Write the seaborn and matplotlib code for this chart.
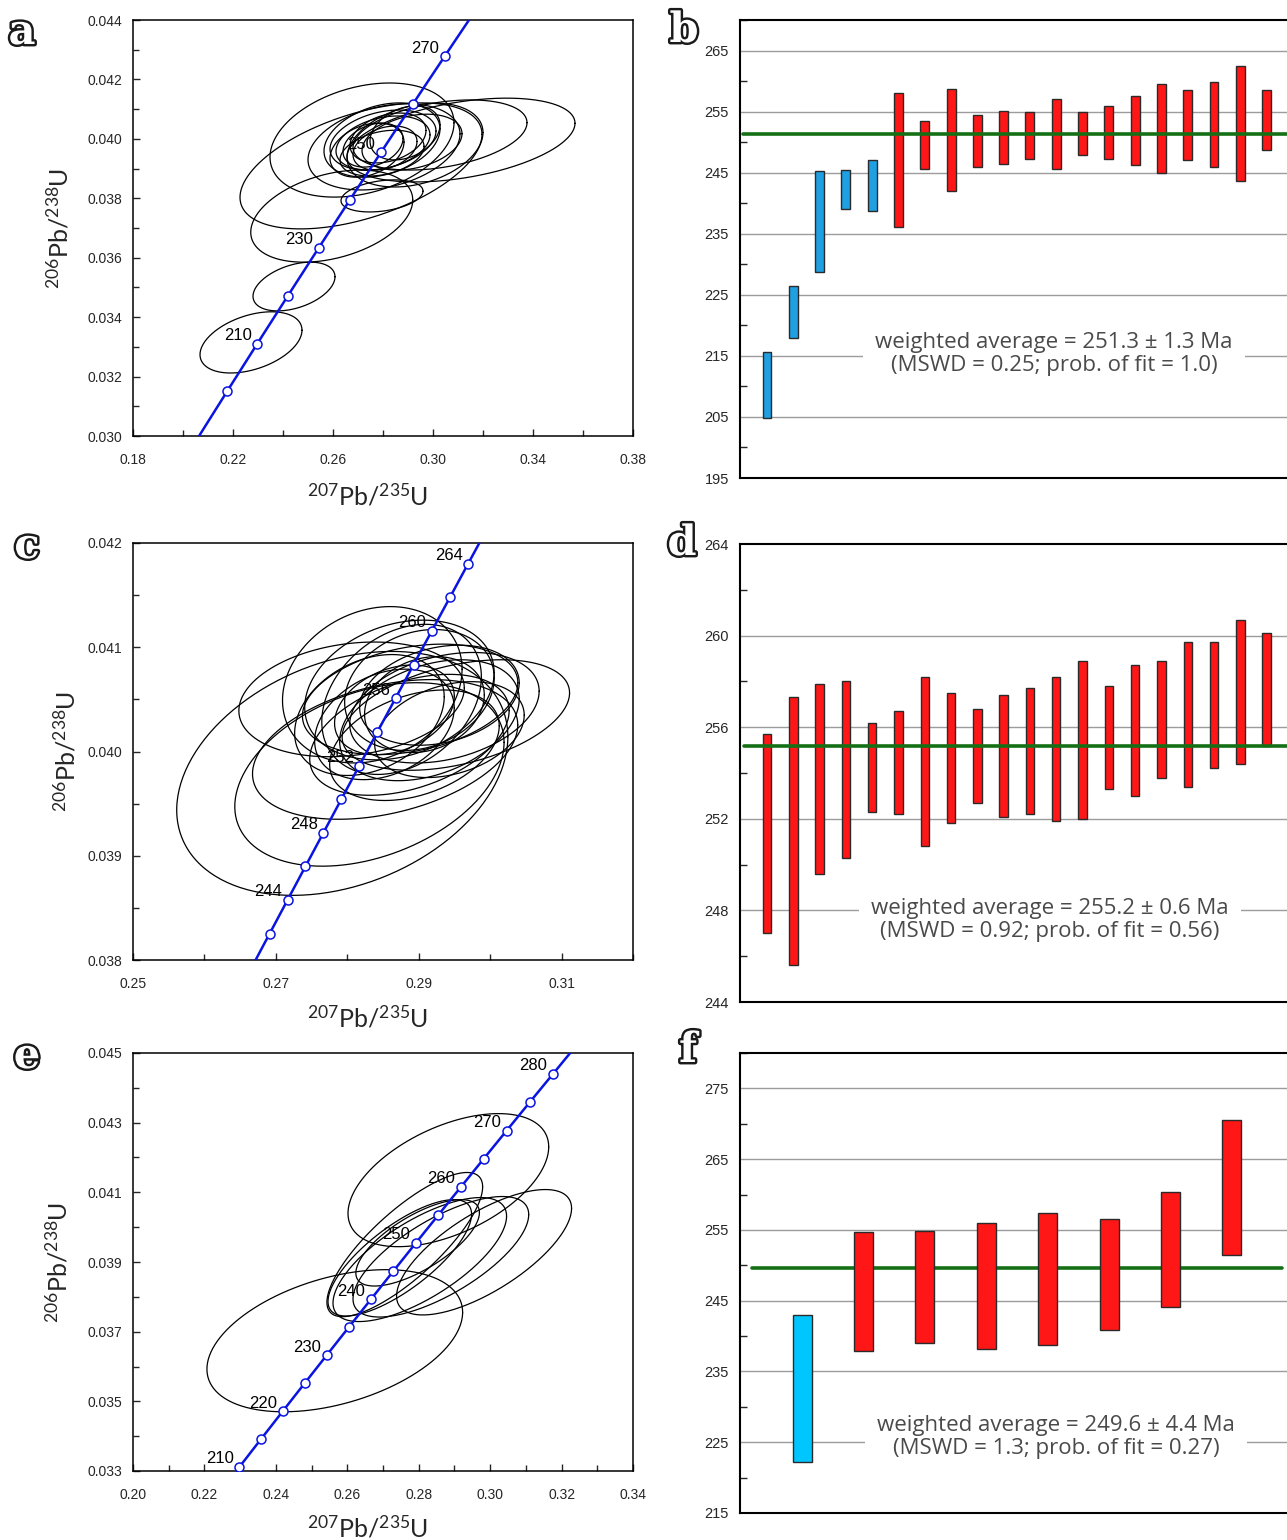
import numpy as np
import matplotlib
matplotlib.use("Agg")
import matplotlib.pyplot as plt
import matplotlib.patheffects as pe
from matplotlib.ticker import FixedLocator, MultipleLocator, FormatStrFormatter
import seaborn as sns

# ---------------- data ----------------
LAMBDA_238 = 1.55125e-4   # 1/Ma
LAMBDA_235 = 9.8485e-4    # 1/Ma

# panel a: error ellipses (centre 207/235, centre 206/238, half-extent x, half-extent y, error correlation)
a_cx = [0.2272, 0.2444, 0.2595, 0.2712, 0.2716, 0.2796, 0.2804, 0.3112, 0.3028, 0.2796,
        0.2800, 0.2800, 0.2760, 0.2820, 0.2916, 0.2808, 0.2736, 0.2888, 0.2928, 0.2796]
a_cy = [0.03315, 0.03503, 0.03740, 0.03909, 0.03996, 0.03808, 0.03973, 0.03996, 0.04013, 0.03996,
        0.03996, 0.03986, 0.03979, 0.04003, 0.03989, 0.03969, 0.03962, 0.04020, 0.03979, 0.03952]
a_sx = [0.0204, 0.0164, 0.0324, 0.0484, 0.0368, 0.0164, 0.0304, 0.0456, 0.0348, 0.0232,
        0.0212, 0.0188, 0.0120, 0.0152, 0.0200, 0.0128, 0.0148, 0.0140, 0.0272, 0.0168]
a_sy = [0.00103, 0.00082, 0.00155, 0.00212, 0.00192, 0.00054, 0.00145, 0.00141, 0.00118, 0.00125,
        0.00101, 0.00091, 0.00074, 0.00084, 0.00094, 0.00074, 0.00091, 0.00091, 0.00141, 0.00077]
a_rho = [0.4, 0.4, 0.35, 0.5, 0.3, 0.3, 0.3, 0.4, 0.35, 0.3,
         0.3, 0.3, 0.3, 0.3, 0.3, 0.3, 0.3, 0.3, 0.3, 0.3]
a_marker_ages = [200, 210, 220, 230, 240, 250, 260, 270]
a_label_ages = [210, 230, 250, 270]
a_xticks = [0.18, 0.22, 0.26, 0.30, 0.34, 0.38]
a_yticks = [0.030, 0.032, 0.034, 0.036, 0.038, 0.040, 0.042, 0.044]

# panel c
c_cx = [0.2793, 0.2831, 0.2853, 0.2806, 0.2835, 0.2952, 0.2936, 0.2888, 0.2876, 0.2901,
        0.2866, 0.2915, 0.2852, 0.2929, 0.2887, 0.2908, 0.2873, 0.2894, 0.2943, 0.2831]
c_cy = [0.03979, 0.03978, 0.04002, 0.04050, 0.04064, 0.04035, 0.04042, 0.04050, 0.04050, 0.04059,
        0.04040, 0.04030, 0.04026, 0.04054, 0.04016, 0.04045, 0.04059, 0.04006, 0.04021, 0.04035]
c_sx = [0.02318, 0.01885, 0.01857, 0.01578, 0.01257, 0.01592, 0.01326, 0.01508, 0.01117, 0.01047,
        0.00838, 0.01257, 0.00977, 0.01117, 0.01396, 0.00838, 0.01326, 0.01187, 0.01047, 0.01047]
c_sy = [0.00117, 0.00088, 0.00067, 0.00055, 0.00075, 0.00053, 0.00053, 0.00053, 0.00072, 0.00058,
        0.00043, 0.00058, 0.00053, 0.00048, 0.00058, 0.00046, 0.00067, 0.00053, 0.00046, 0.00058]
c_rho = [0.3, 0.35, 0.35, 0.2, 0.2, 0.4, 0.3, 0.3, 0.3, 0.2,
         0.3, 0.35, 0.3, 0.25, 0.4, 0.2, 0.25, 0.35, 0.3, 0.3]
c_marker_ages = [242, 244, 246, 248, 250, 252, 254, 256, 258, 260, 262, 264]
c_label_ages = [244, 248, 252, 256, 260, 264]
c_xticks = [0.25, 0.27, 0.29, 0.31]
c_yticks = [0.038, 0.039, 0.040, 0.041, 0.042]

# panel e
e_cx = [0.2565, 0.2883, 0.2983, 0.2862, 0.2803, 0.2761, 0.2747, 0.2797]
e_cy = [0.03674, 0.04135, 0.03928, 0.03915, 0.03907, 0.03950, 0.03912, 0.03955]
e_sx = [0.0358, 0.0281, 0.0245, 0.0246, 0.0243, 0.0218, 0.0201, 0.0173]
e_sy = [0.00204, 0.00191, 0.00180, 0.00173, 0.00178, 0.00207, 0.00167, 0.00124]
e_rho = [0.4, 0.5, 0.7, 0.7, 0.7, 0.8, 0.75, 0.7]
e_marker_ages = [210, 215, 220, 225, 230, 235, 240, 245, 250, 255, 260, 265, 270, 275, 280]
e_label_ages = [210, 220, 230, 240, 250, 260, 270, 280]
e_xticks = [0.20, 0.22, 0.24, 0.26, 0.28, 0.30, 0.32, 0.34]
e_yticks = [0.033, 0.035, 0.037, 0.039, 0.041, 0.043, 0.045]

# panel b: age bars (Ma)
b_lo = [204.9, 218.0, 228.8, 239.0, 238.8, 236.1, 245.6, 242.0, 246.0, 246.4,
        247.3, 245.6, 247.9, 247.3, 246.2, 244.9, 247.0, 245.9, 243.6, 248.7]
b_hi = [215.6, 226.4, 245.3, 245.5, 247.0, 258.0, 253.4, 258.7, 254.4, 255.1,
        254.9, 257.0, 254.9, 255.9, 257.6, 259.5, 258.5, 259.8, 262.5, 258.5]
b_used = [False] * 5 + [True] * 15
b_mean = 251.3
b_text = "weighted average = 251.3 \u00b1 1.3 Ma\n(MSWD = 0.25; prob. of fit = 1.0)"

# panel d
d_lo = [247.0, 245.6, 249.6, 250.3, 252.3, 252.2, 250.8, 251.8, 252.7, 252.1,
        252.2, 251.9, 252.0, 253.3, 253.0, 253.8, 253.4, 254.2, 254.4, 255.2]
d_hi = [255.7, 257.3, 257.9, 258.0, 256.2, 256.7, 258.2, 257.5, 256.8, 257.4,
        257.7, 258.2, 258.9, 257.8, 258.7, 258.9, 259.7, 259.7, 260.7, 260.1]
d_used = [True] * 20
d_mean = 255.2
d_text = "weighted average = 255.2 \u00b1 0.6 Ma\n(MSWD = 0.92; prob. of fit = 0.56)"

# panel f
f_lo = [222.2, 237.9, 239.0, 238.2, 238.7, 240.8, 244.1, 251.4]
f_hi = [243.0, 254.7, 254.9, 256.0, 257.4, 256.6, 260.4, 270.6]
f_used = [False] + [True] * 7
f_mean = 249.6
f_text = "weighted average = 249.6 \u00b1 4.4 Ma\n(MSWD = 1.3; prob. of fit = 0.27)"

# ---------------- style ----------------
sns.set_style("ticks")
plt.rcParams['font.family'] = ['Liberation Sans', 'DejaVu Sans']
plt.rcParams['mathtext.fontset'] = 'custom'
plt.rcParams['mathtext.rm'] = 'Lato'
plt.rcParams['mathtext.it'] = 'Lato:italic'
plt.rcParams['mathtext.bf'] = 'Lato:bold'
plt.rcParams['mathtext.sf'] = 'Lato'

W, H = 1287, 1540
fig = plt.figure(figsize=(W / 100, H / 100), dpi=100)
fig.patch.set_facecolor('white')

CBLUE = '#0a14e0'


def rect(left, top, right, bottom):
    return [left / W, 1 - bottom / H, (right - left) / W, (bottom - top) / H]


def ellipse_xy(cx, cy, sx, sy, rho, n=240):
    t = np.linspace(0, 2 * np.pi, n)
    x = cx + sx * np.cos(t)
    y = cy + sy * (rho * np.cos(t) + np.sqrt(1 - rho ** 2) * np.sin(t))
    return x, y


def conc_panel(r, xlim, ylim, xticks, yticks, xfmt, yfmt,
               cx, cy, sx, sy, rho, mages, lages, xl_pos, yl_pos):
    ax = fig.add_axes(r)
    for i in range(len(cx)):
        ex, ey = ellipse_xy(cx[i], cy[i], sx[i], sy[i], rho[i])
        ax.plot(ex, ey, color='black', lw=0.9, zorder=2)
    t = np.linspace(150, 300, 400)
    sns.lineplot(x=np.expm1(LAMBDA_235 * t), y=np.expm1(LAMBDA_238 * t), sort=False,
                 estimator=None, color=CBLUE, lw=1.8, ax=ax, zorder=3)
    ma = np.array(mages, dtype=float)
    sns.scatterplot(x=np.expm1(LAMBDA_235 * ma), y=np.expm1(LAMBDA_238 * ma), s=42,
                    color='white', edgecolor=CBLUE, linewidth=1.1, ax=ax, zorder=4)
    for a in lages:
        ax.annotate(str(a), (np.expm1(LAMBDA_235 * a), np.expm1(LAMBDA_238 * a)),
                    xytext=(-4, 0.5), textcoords='offset points', ha='right', va='bottom',
                    fontsize=12, color='black', zorder=5)
    ax.set_xlim(*xlim)
    ax.set_ylim(*ylim)
    xt = np.array(xticks)
    yt = np.array(yticks)
    ax.xaxis.set_major_locator(FixedLocator(xt))
    ax.yaxis.set_major_locator(FixedLocator(yt))
    xm = np.arange(xt[0] - (xt[1] - xt[0]), xlim[1] + 1e-9, (xt[1] - xt[0]) / 2)
    ym = np.arange(yt[0] - (yt[1] - yt[0]), ylim[1] + 1e-9, (yt[1] - yt[0]) / 2)
    ax.xaxis.set_minor_locator(FixedLocator(xm))
    ax.yaxis.set_minor_locator(FixedLocator(ym))
    ax.xaxis.set_major_formatter(FormatStrFormatter(xfmt))
    ax.yaxis.set_major_formatter(FormatStrFormatter(yfmt))
    ax.tick_params(which='both', direction='in', labelsize=10, width=1)
    ax.tick_params(which='major', length=5)
    ax.tick_params(which='minor', length=4)
    ax.tick_params(axis='x', pad=12)
    ax.tick_params(axis='y', pad=8)
    for s in ax.spines.values():
        s.set_linewidth(1.1)
        s.set_color('black')
    ax.set_xlabel(r'$^{207}$Pb/$^{235}$U', fontsize=18, family='Lato')
    ax.set_ylabel(r'$^{206}$Pb/$^{238}$U', fontsize=18, family='Lato')
    ax.xaxis.set_label_coords(*xl_pos)
    ax.yaxis.set_label_coords(*yl_pos)
    return ax


def bar_panel(r, lo, hi, used, blue, ylim, ymaj, ymin, grid, mean, xlim, width,
              mean_span, text, text_xy, mean_on_top):
    ax = fig.add_axes(r)
    lo = np.array(lo)
    hi = np.array(hi)
    idx = np.arange(len(lo))
    cols = ['#ff1616' if u else blue for u in used]
    for g in grid:
        ax.axhline(g, color='#9c9c9c', lw=1.0, zorder=0.5)
    ax.bar(idx, hi - lo, bottom=lo, width=width, color=cols, edgecolor='#2a2a2a',
           linewidth=1.0, zorder=2)
    sns.lineplot(x=list(mean_span), y=[mean, mean], color='#157015', lw=2.6, ax=ax,
                 zorder=3 if mean_on_top else 1.5)
    ax.text(text_xy[0], text_xy[1], text, ha='center', va='center', fontsize=16,
            family='Open Sans', color='#4a4a4a', linespacing=1.12, zorder=2.5,
            bbox=dict(boxstyle='square,pad=0.55', fc='white', ec='none'))
    ax.set_xlim(*xlim)
    ax.set_ylim(*ylim)
    ax.set_xticks([])
    ax.yaxis.set_major_locator(MultipleLocator(ymaj, offset=ylim[0] % ymaj))
    ax.yaxis.set_minor_locator(MultipleLocator(ymin, offset=ylim[0] % ymin))
    ax.tick_params(which='both', direction='in', labelsize=10.5, width=1, pad=8)
    ax.tick_params(which='major', length=0)
    ax.tick_params(which='minor', length=5)
    ax.spines['right'].set_visible(False)
    for k in ['left', 'bottom', 'top']:
        ax.spines[k].set_linewidth(1.5)
        ax.spines[k].set_color('black')
    return ax


# ---- concordia panels ----
conc_panel(rect(133, 20, 633, 436), (0.18, 0.38), (0.030, 0.044), a_xticks, a_yticks,
           '%.2f', '%.3f', a_cx, a_cy, a_sx, a_sy, a_rho, a_marker_ages, a_label_ages,
           (0.47, -0.112), (-0.122, 0.5))
conc_panel(rect(133, 543, 633, 960), (0.25, 0.32), (0.038, 0.042), c_xticks, c_yticks,
           '%.2f', '%.3f', c_cx, c_cy, c_sx, c_sy, c_rho, c_marker_ages, c_label_ages,
           (0.47, -0.108), (-0.108, 0.5))
conc_panel(rect(133, 1053, 633, 1471), (0.20, 0.34), (0.033, 0.045), e_xticks, e_yticks,
           '%.2f', '%.3f', e_cx, e_cy, e_sx, e_sy, e_rho, e_marker_ages, e_label_ages,
           (0.47, -0.105), (-0.124, 0.5))

# ---- weighted-mean panels ----
bar_panel(rect(740, 20, 1300, 478), b_lo, b_hi, b_used, '#1ea0e2', (195, 270), 10, 5,
          [205, 215, 225, 235, 245, 255, 265], b_mean, (-1.027, 20.27), 0.34,
          (-0.92, 21.5), b_text, (10.91, 215.3), True)
bar_panel(rect(740, 544, 1300, 1002), d_lo, d_hi, d_used, '#1ea0e2', (244, 264), 4, 2,
          [248, 252, 256, 260], d_mean, (-1.027, 20.27), 0.32,
          (-0.88, 21.5), d_text, (10.76, 247.6), True)
bar_panel(rect(740, 1053, 1300, 1513), f_lo, f_hi, f_used, '#00c6ff', (215, 280), 10, 5,
          [225, 235, 245, 255, 265, 275], f_mean, (-1.01, 8.11), 0.31,
          (-0.81, 7.82), f_text, (4.14, 225.7), False)

# ---- panel letters ----
for letter, (px, py) in zip('abcdef', [(22, 32), (684, 30), (27, 546), (682, 543),
                                        (27, 1056), (688, 1050)]):
    fig.text(px / W, 1 - py / H, letter, ha='center', va='center', fontsize=30,
             family='DejaVu Serif', fontweight='bold', color='white',
             path_effects=[pe.withStroke(linewidth=3.5, foreground='#1a1a1a')])

fig.savefig('out.png', dpi=100, facecolor='white')
